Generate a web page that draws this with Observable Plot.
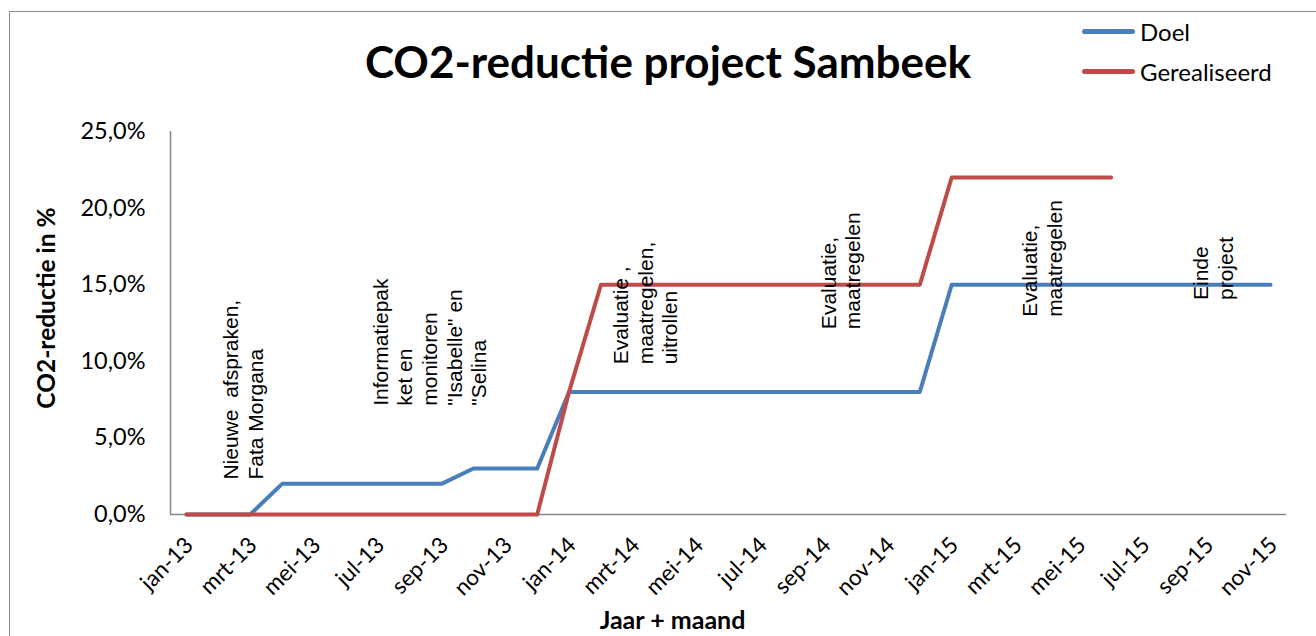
<!DOCTYPE html>
<html>
<head>
<meta charset="utf-8">
<script src="https://cdn.jsdelivr.net/npm/d3@7"></script>
<script src="https://cdn.jsdelivr.net/npm/@observablehq/plot@0.6"></script>
<style>
  html, body { margin: 0; padding: 0; background: #fff; }
  #wrap { position: relative; width: 1316px; height: 636px; overflow: hidden; font-family: Lato, "Open Sans", sans-serif; }
  #frame { position: absolute; left: 9px; top: 11px; width: 1320px; height: 640px; border: 1.5px solid #8c8c8c; box-sizing: border-box; }
  #title { position: absolute; left: 0; width: 1336px; top: 39px; text-align: center; font-weight: 700; font-size: 44px; color: #000; line-height: 1; }
  .leg { position: absolute; left: 1082px; display: flex; align-items: center; font-size: 24px; color: #000; }
  .leg .sw { width: 53px; height: 5px; border-radius: 3px; margin-right: 5px; }
  #plot { position: absolute; left: 0; top: 0; }
</style>
</head>
<body>
<div id="wrap">
  <div id="frame"></div>
  <div id="plot"></div>
  <div id="title"></div>
  <div id="legend"></div>
</div>
<script>
// Categories: months jan-13 .. nov-15
const maanden = ["jan","feb","mrt","apr","mei","jun","jul","aug","sep","okt","nov","dec"];
const jaren = ["13","14","15"];
const months = [];
for (const j of jaren) for (const m of maanden) months.push(m + "-" + j);
months.length = 35; // jan-13 .. nov-15

// Series values (% CO2 reduction), one per month
const doel = [0,0,0,2,2,2,2,2,2,3,3,3,
              8,8,8,8,8,8,8,8,8,8,8,8,
              15,15,15,15,15,15,15,15,15,15,15];
const gerealiseerd = [0,0,0,0,0,0,0,0,0,0,0,0,
                      8,15,15,15,15,15,15,15,15,15,15,15,
                      22,22,22,22,22,22];

const yTicks = [0,5,10,15,20,25];
const xTickIdx = [0,2,4,6,8,10,12,14,16,18,20,22,24,26,28,30,32,34];

// Annotations (anchor in month index / percent)
const noteText = [
  "Nieuwe  afspraken,\nFata Morgana",
  "Informatiepak\nket en\nmonitoren\n\"Isabelle\" en\n\"Selina",
  "Evaluatie ,\nmaatregelen,\nuitrollen",
  "Evaluatie,\nmaatregelen",
  "Evaluatie,\nmaatregelen",
  "Einde\nproject"
];
const noteX = [1.07, 5.77, 13.3, 19.82, 26.13, 31.49];
const noteY = [2.28, 7.1, 9.8, 12.1, 12.9, 14.0];

const series = [
  {name: "Doel", values: doel, color: "#4a7ebb"},
  {name: "Gerealiseerd", values: gerealiseerd, color: "#be4b48"}
];

const rows = series.flatMap(s => s.values.map((v, i) => ({serie: s.name, i, v})));
const notes = noteText.map((t, k) => ({t, x: noteX[k], y: noteY[k]}));

const fmtPct = d => d.toFixed(1).replace(".", ",") + "%";

const chart = Plot.plot({
  width: 1316,
  height: 636,
  marginLeft: 170,
  marginRight: 30,
  marginTop: 131,
  marginBottom: 122,
  style: {fontFamily: "Lato, 'Open Sans', sans-serif", background: "transparent", overflow: "visible"},
  x: {type: "linear", domain: [-0.5, 34.5]},
  y: {domain: [0, 25]},
  marks: [
    Plot.axisY({ticks: yTicks, tickFormat: fmtPct, tickSize: 0, tickPadding: 25, fontSize: 23.5, label: null, fill: "#000"}),
    Plot.axisX({ticks: xTickIdx, tickFormat: i => months[i], tickRotate: -45, tickSize: 0, tickPadding: 27, dx: 3, fontSize: 22.5, label: null, fill: "#000"}),
    Plot.ruleX([-0.5], {y1: 0, y2: 25, stroke: "#868686", strokeWidth: 1.5}),
    Plot.ruleY([0], {stroke: "#868686", strokeWidth: 1.5}),
    Plot.line(rows.filter(r => r.serie === "Doel"), {x: "i", y: "v", stroke: series[0].color, strokeWidth: 4, strokeLinecap: "round", strokeLinejoin: "round"}),
    Plot.line(rows.filter(r => r.serie === "Gerealiseerd"), {x: "i", y: "v", stroke: series[1].color, strokeWidth: 4, strokeLinecap: "round", strokeLinejoin: "round"}),
    Plot.text(notes, {x: "x", y: "y", text: "t", rotate: -90, textAnchor: "start", lineAnchor: "top", lineHeight: 1.17, fontSize: 21, fontFamily: "'Liberation Sans', Arial, sans-serif", fill: "#000"}),
    Plot.text(["CO2-reductie in %"], {frameAnchor: "left", textAnchor: "middle", rotate: -90, dx: -123, dy: -15, fontSize: 24.5, fontWeight: "bold", fill: "#000"}),
    Plot.text(["Jaar + maand"], {frameAnchor: "bottom", textAnchor: "middle", dx: -56, dy: 114, fontSize: 25, fontWeight: "bold", fill: "#000"})
  ]
});
document.getElementById("plot").appendChild(chart);

document.getElementById("title").textContent = "CO2-reductie project Sambeek";
const leg = document.getElementById("legend");
series.forEach((s, k) => {
  const d = document.createElement("div");
  d.className = "leg";
  d.style.top = (17 + k * 40) + "px";
  d.innerHTML = `<span class="sw" style="background:${s.color}"></span><span>${s.name}</span>`;
  leg.appendChild(d);
});
</script>
</body>
</html>
